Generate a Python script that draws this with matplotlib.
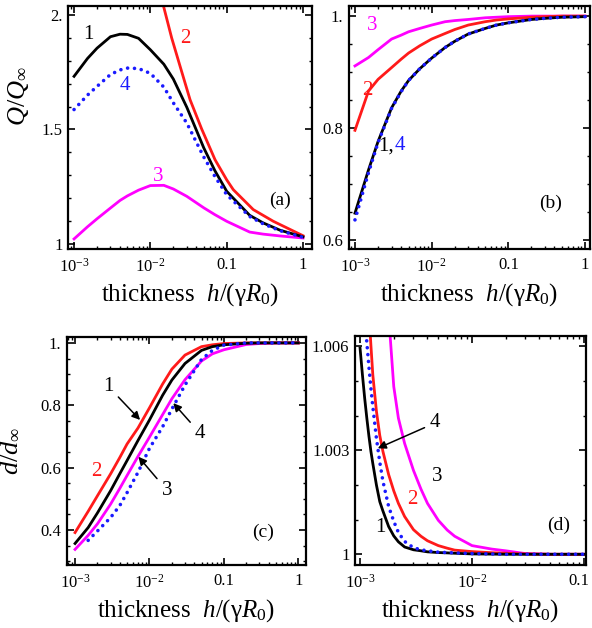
"""Four-panel thickness dependence plot (Q/Q_inf and d/d_inf)."""

import numpy as np
import matplotlib
matplotlib.use("Agg")
import matplotlib.pyplot as plt
from matplotlib.transforms import ScaledTranslation
from matplotlib.ticker import FixedLocator, LogLocator, NullFormatter, MultipleLocator

plt.rcParams["font.family"] = ["Liberation Serif", "DejaVu Serif"]
plt.rcParams["mathtext.fontset"] = "custom"
plt.rcParams["mathtext.rm"] = "Liberation Serif"
plt.rcParams["mathtext.it"] = "Liberation Serif:italic"
plt.rcParams["mathtext.bf"] = "Liberation Serif:bold"
plt.rcParams["axes.linewidth"] = 1.6
for ax_name in ("xtick", "ytick"):
    plt.rcParams[f"{ax_name}.direction"] = "in"
    plt.rcParams[f"{ax_name}.major.size"] = 5
    plt.rcParams[f"{ax_name}.minor.size"] = 2.5
    plt.rcParams[f"{ax_name}.major.width"] = 1.2
    plt.rcParams[f"{ax_name}.minor.width"] = 1.0
plt.rcParams["xtick.top"] = True
plt.rcParams["ytick.right"] = True

nan = np.nan

# ---- panel (a): Q/Q_inf ----
h_a = [0.001, 0.0015, 0.002, 0.003, 0.004, 0.005, 0.007, 0.01, 0.015, 0.02,
       0.03, 0.05, 0.07, 0.1, 0.2, 0.3, 0.5, 1.0]
q_a1 = [1.732, 1.81, 1.855, 1.905, 1.916, 1.915, 1.898, 1.848, 1.785, 1.72,
        1.597, 1.42, 1.32, 1.23, 1.125, 1.092, 1.06, 1.031]
q_a3 = [1.022, 1.075, 1.11, 1.157, 1.19, 1.21, 1.235, 1.255, 1.256, 1.24,
        1.208, 1.158, 1.128, 1.099, 1.052, 1.043, 1.035, 1.026]
q_a4 = [1.587, 1.65, 1.688, 1.74, 1.76, 1.768, 1.766, 1.745, 1.685, 1.616,
        1.528, 1.38, 1.295, 1.215, 1.12, 1.088, 1.058, 1.029]
# curve 2 leaves the top of the frame, so it has its own sampling
h_a2 = [0.01, 0.012, 0.0148, 0.019, 0.0245, 0.0331, 0.047, 0.0703, 0.1,
        0.122, 0.223, 0.408, 1.0]
q_a2 = [2.3, 2.18, 2.041, 1.90, 1.776, 1.630, 1.502, 1.368, 1.28,
        1.237, 1.150, 1.099, 1.036]

# ---- panel (b) ----
h_b = h_a
q_b1 = [0.648, 0.725, 0.776, 0.836, 0.866, 0.885, 0.906, 0.925, 0.944, 0.955,
        0.968, 0.978, 0.984, 0.988, 0.994, 0.996, 0.998, 0.999]
q_b2 = [0.796, 0.866, 0.887, 0.908, 0.923, 0.934, 0.947, 0.959, 0.969, 0.976,
        0.984, 0.99, 0.993, 0.995, 0.998, 0.999, 1.0, 1.0]
q_b3 = [0.911, 0.926, 0.94, 0.959, 0.966, 0.972, 0.978, 0.984, 0.99, 0.992,
        0.994, 0.997, 0.998, 0.999, 1.0, 1.0, 1.0, 1.0]
q_b4 = [0.636, 0.72, 0.774, 0.835, 0.865, 0.885, 0.906, 0.925, 0.944, 0.955,
        0.968, 0.978, 0.984, 0.988, 0.994, 0.996, 0.998, 0.999]

# ---- panel (c): d/d_inf ----
h_c = h_a
d_c1 = [0.357, 0.408, 0.455, 0.526, 0.581, 0.623, 0.687, 0.753, 0.832, 0.881,
        0.934, 0.976, 0.988, 0.994, 0.999, 1.0, 1.0, 1.0]
d_c2 = [0.392, 0.46, 0.51, 0.58, 0.633, 0.676, 0.727, 0.792, 0.868, 0.916,
        0.961, 0.988, 0.994, 0.998, 1.0, 1.0, 1.0, 1.0]
d_c3 = [0.338, 0.383, 0.42, 0.483, 0.534, 0.575, 0.636, 0.698, 0.77, 0.821,
        0.882, 0.942, 0.965, 0.978, 0.995, 0.998, 1.0, 1.0]
d_c4 = [nan, 0.367, 0.397, 0.44, 0.479, 0.52, 0.585, 0.662, 0.731, 0.788,
        0.865, 0.947, 0.976, 0.993, 1.0, 1.0, 1.0, 1.0]

# ---- panel (d): zoom near d/d_inf = 1 ----
h_d = [0.001, 0.00105, 0.0011, 0.00115, 0.0012, 0.00125, 0.0013, 0.0014,
       0.0015, 0.0016, 0.0018, 0.002, 0.0022, 0.0025, 0.003, 0.0035, 0.004,
       0.005, 0.006, 0.007, 0.01, 0.015, 0.02, 0.03, 0.05, 0.1]
d_d1 = [1.00595, 1.00518, 1.0045, 1.00392, 1.00341, 1.00297, 1.00262, 1.002,
        1.00152, 1.00125, 1.0008, 1.00053, 1.00036, 1.00021, 1.00013, 1.0001,
        1.00007, 1.00005, 1.00004, 1.00003, 1.00001, 1.000005, 1.0, 1.0, 1.0, 1.0]
d_d2 = [nan, nan, nan, nan, 1.0070, 1.00603, 1.00518, 1.00413,
        1.00343, 1.00297, 1.0023, 1.00183, 1.00147, 1.00109, 1.00071, 1.00052,
        1.00039, 1.00025, 1.000176, 1.00012, 1.000077, 1.000045, 1.00003,
        1.00001, 1.0, 1.0]
d_d3 = [nan, nan, nan, nan, nan, nan, nan, nan,
        nan, nan, 1.0069, 1.00484, 1.00393, 1.0032, 1.00242, 1.00188,
        1.00147, 1.00098, 1.0007, 1.00052, 1.00025, 1.00015, 1.0001,
        1.00002, 1.0, 1.0]
d_d4 = [nan, 1.00775, 1.00687, 1.0061, 1.00541, 1.00479, 1.00426, 1.00335,
        1.00266, 1.00211, 1.00138, 1.00095, 1.00063, 1.00037, 1.00019, 1.00013,
        1.0001, 1.00006, 1.00005, 1.00004, 1.00002, 1.00001, 1.0, 1.0, 1.0, 1.0]

BLACK, RED, MAGENTA, BLUE = "black", "#ff1a1a", "#ff00ff", "#1a1aff"
LW = 2.0


def draw(ax, x, y, color, dotted=False):
    if dotted:
        ax.plot(x, y, color=color, lw=2.6, linestyle=(0, (0.01, 1.9)),
                dash_capstyle="round")
    else:
        ax.plot(x, y, color=color, lw=LW)


def style_log_x(ax, ticks, labels, lim):
    ax.set_xscale("log")
    ax.set_xlim(*lim)
    ax.xaxis.set_major_locator(FixedLocator(ticks))
    ax.set_xticklabels(labels)
    ax.xaxis.set_minor_locator(LogLocator(base=10, subs=np.arange(2, 10)))
    ax.xaxis.set_minor_formatter(NullFormatter())
    ax.tick_params(axis="x", which="major", labelsize=12, pad=6)
    ax.tick_params(axis="y", which="major", labelsize=12, pad=4)
    ax.set_xlabel(r"thickness  $h/(\mathrm{\gamma}R_0)$", fontsize=18, labelpad=4)


fig = plt.figure(figsize=(5.92, 6.28), dpi=100)
ax_a = fig.add_axes([0.1149, 0.6035, 0.4122, 0.3869])
ax_b = fig.add_axes([0.5895, 0.6035, 0.4071, 0.3869])
ax_c = fig.add_axes([0.1132, 0.1003, 0.4037, 0.3631])
ax_d = fig.add_axes([0.5997, 0.1003, 0.3902, 0.3646])

xt3 = [1e-3, 1e-2, 0.1, 1]
xl3 = [r"$10^{-3}$", r"$10^{-2}$", "0.1", "1"]

# (a)
draw(ax_a, h_a, q_a3, MAGENTA)
draw(ax_a, h_a2, q_a2, RED)
draw(ax_a, h_a, q_a1, BLACK)
draw(ax_a, h_a, q_a4, BLUE, dotted=True)
style_log_x(ax_a, xt3, xl3, (10 ** -3.079, 10 ** 0.118))
ax_a.set_ylim(0.978, 2.039)
ax_a.yaxis.set_major_locator(FixedLocator([1, 1.5, 2]))
ax_a.set_yticklabels(["1", "1.5", "2."])
ax_a.yaxis.set_minor_locator(MultipleLocator(0.1))
ax_a.set_ylabel(r"$Q/Q_\infty$", fontsize=19)
ax_a.yaxis.set_label_coords(-0.152, 0.63)
ax_a.text(0.00154, 1.913, "1", color=BLACK, fontsize=15, ha="center", va="center")
ax_a.text(0.0284, 1.898, "2", color=RED, fontsize=15, ha="center", va="center")
ax_a.text(0.00466, 1.694, "4", color=BLUE, fontsize=15, ha="center", va="center")
ax_a.text(0.0127, 1.294, "3", color=MAGENTA, fontsize=15, ha="center", va="center")
ax_a.text(0.869, 0.2, "(a)", transform=ax_a.transAxes, fontsize=14, ha="center", va="center")

# (b)
draw(ax_b, h_b, q_b3, MAGENTA)
draw(ax_b, h_b, q_b2, RED)
draw(ax_b, h_b, q_b1, BLACK)
draw(ax_b, h_b, q_b4, BLUE, dotted=True)
style_log_x(ax_b, xt3, xl3, (10 ** -3.078, 10 ** 0.065))
ax_b.set_ylim(0.584, 1.018)
ax_b.yaxis.set_major_locator(FixedLocator([0.6, 0.8, 1.0]))
ax_b.set_yticklabels(["0.6", "0.8", "1."])
ax_b.yaxis.set_minor_locator(MultipleLocator(0.05))
ax_b.text(0.0017, 0.984, "3", color=MAGENTA, fontsize=15, ha="center", va="center")
ax_b.text(0.00147, 0.868, "2", color=RED, fontsize=15, ha="center", va="center")
ax_b.text(0.00327, 0.768, "1,", color=BLACK, fontsize=15, ha="right", va="center")
ax_b.text(0.00332, 0.768, "4", color=BLUE, fontsize=15, ha="left", va="center")
ax_b.text(0.838, 0.188, "(b)", transform=ax_b.transAxes, fontsize=14, ha="center", va="center")

# (c)
draw(ax_c, h_c, d_c3, MAGENTA)
draw(ax_c, h_c, d_c2, RED)
draw(ax_c, h_c, d_c1, BLACK)
draw(ax_c, h_c, d_c4, BLUE, dotted=True)
style_log_x(ax_c, xt3, xl3, (10 ** -3.108, 10 ** 0.103))
ax_c.set_ylim(0.288, 1.019)
ax_c.yaxis.set_major_locator(FixedLocator([0.4, 0.6, 0.8, 1.0]))
ax_c.set_yticklabels(["0.4", "0.6", "0.8", "1."])
ax_c.yaxis.set_minor_locator(MultipleLocator(0.05))
ax_c.set_ylabel(r"$d/d_\infty$", fontsize=19)
ax_c.yaxis.set_label_coords(-0.19, 0.5)
arrow = dict(arrowstyle="-|>", color="black", lw=1.1, mutation_scale=12,
             shrinkA=2, shrinkB=0)
ax_c.text(0.00196, 0.587, "2", color=RED, fontsize=15, ha="center", va="center")
ax_c.annotate("1", xy=(0.00748, 0.753), xytext=(0.00281, 0.86), fontsize=15,
              ha="center", va="center", arrowprops=arrow)
ax_c.annotate("3", xy=(0.0071, 0.635), xytext=(0.0171, 0.528), fontsize=15,
              ha="center", va="center", arrowprops=arrow)
ax_c.annotate("4", xy=(0.0209, 0.807), xytext=(0.0479, 0.71), fontsize=15,
              ha="center", va="center", arrowprops=arrow)
ax_c.text(0.82, 0.145, "(c)", transform=ax_c.transAxes, fontsize=14, ha="center", va="center")

# (d)
draw(ax_d, h_d, d_d3, MAGENTA)
draw(ax_d, h_d, d_d2, RED)
draw(ax_d, h_d, d_d1, BLACK)
draw(ax_d, h_d, d_d4, BLUE, dotted=True)
style_log_x(ax_d, [1e-3, 1e-2, 0.1], [r"$10^{-3}$", r"$10^{-2}$", "0.1"],
            (10 ** -3.045, 10 ** -0.982))
ax_d.set_ylim(0.99969, 1.0063)
ax_d.yaxis.set_major_locator(FixedLocator([1.0, 1.003, 1.006]))
ax_d.set_yticklabels(["1", "1.003", "1.006"])
ax_d.yaxis.set_minor_locator(MultipleLocator(0.001))
# keep the last tick label inside the canvas
last = ax_d.get_xticklabels()[-1]
last.set_transform(last.get_transform() + ScaledTranslation(-4 / 72, 0, fig.dpi_scale_trans))
ax_d.annotate("4", xy=(0.00144, 1.00306), xytext=(0.00468, 1.00379), fontsize=15,
              ha="center", va="center", arrowprops=arrow)
ax_d.text(0.00484, 1.00224, "3", color=BLACK, fontsize=15, ha="center", va="center")
ax_d.text(0.0029, 1.00157, "2", color=RED, fontsize=15, ha="center", va="center")
ax_d.text(0.00151, 1.00078, "1", color=BLACK, fontsize=15, ha="center", va="center")
ax_d.text(0.883, 0.175, "(d)", transform=ax_d.transAxes, fontsize=14, ha="center", va="center")

fig.savefig("out.png", dpi=100)
